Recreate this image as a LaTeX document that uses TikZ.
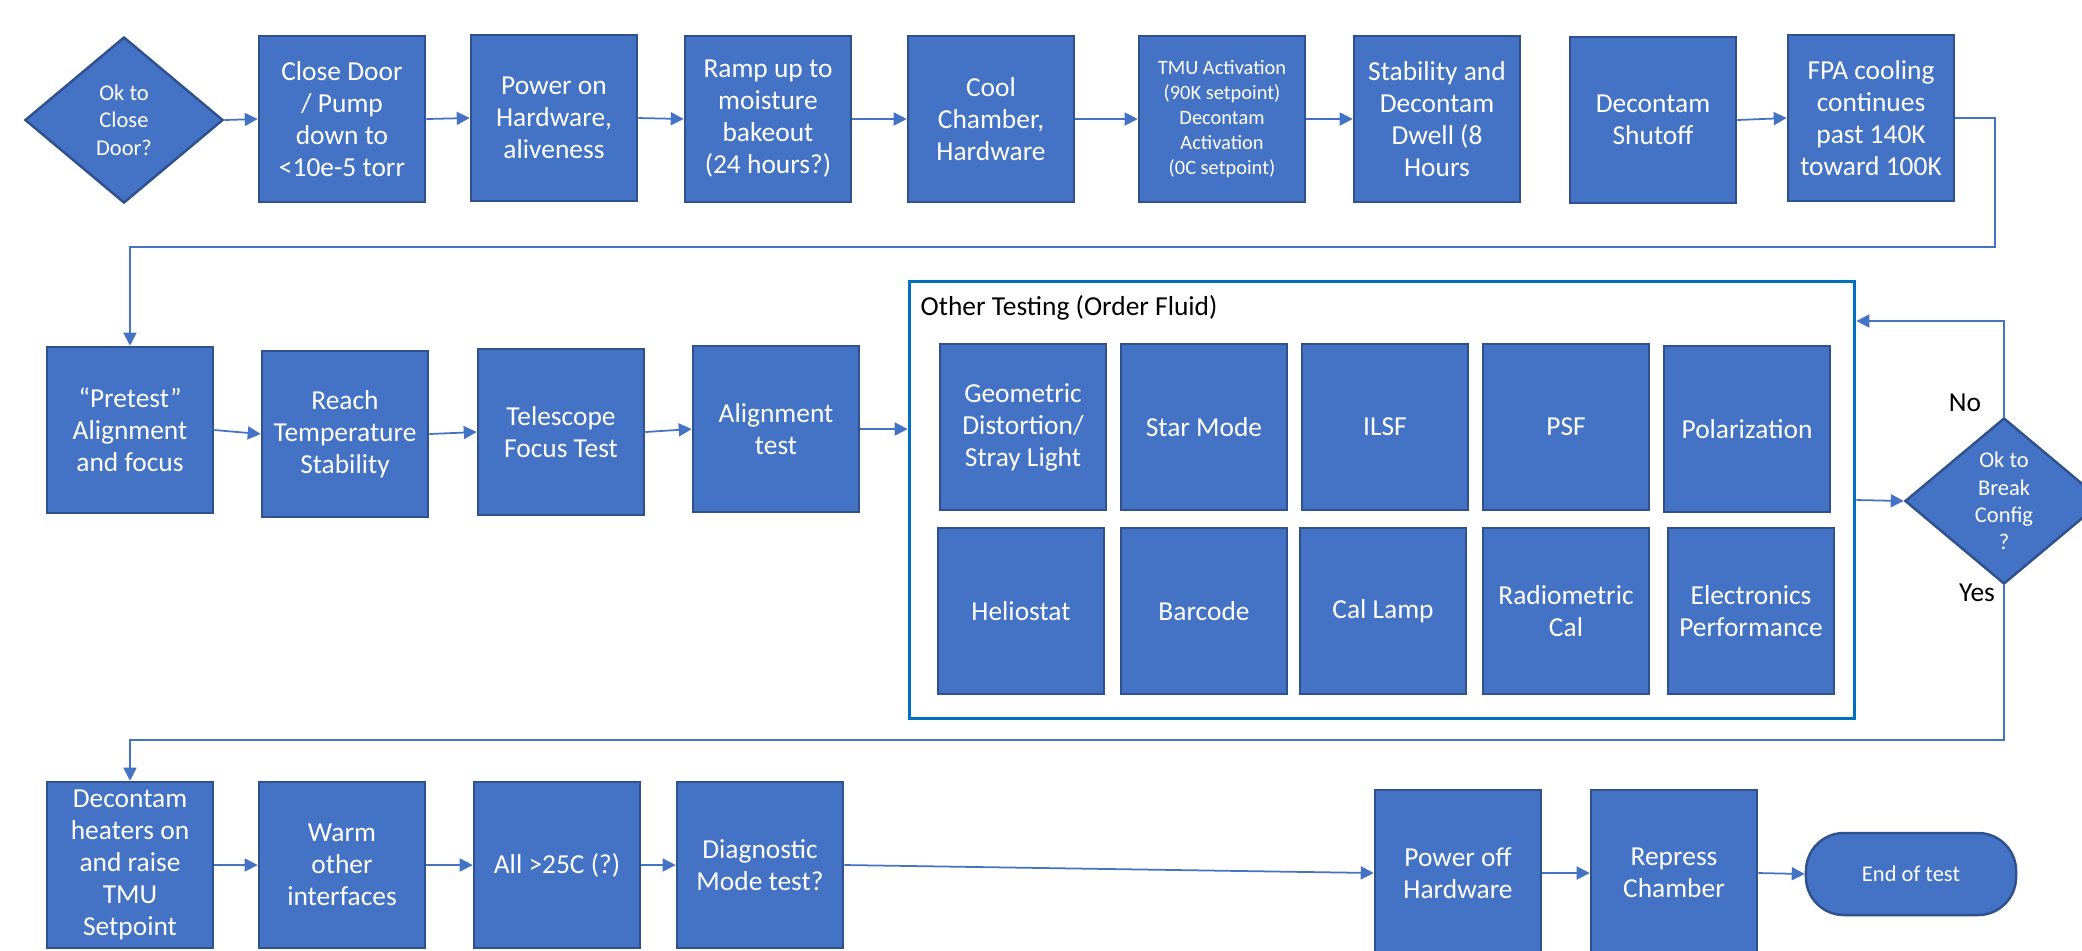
\documentclass[tikz,border=0pt]{standalone}
\usepackage{fontspec}
\setmainfont{Carlito}
\usetikzlibrary{shapes.geometric,arrows.meta}
\definecolor{boxblue}{RGB}{68,114,196}
\definecolor{boxedge}{RGB}{47,82,143}
\definecolor{frameblue}{RGB}{0,112,192}
\begin{document}
\begin{tikzpicture}[x=0.01cm,y=-0.01cm,>={Triangle[length=1.3mm,width=1.3mm]},
stepbox/.style={draw=boxedge,line width=0.7pt,fill=boxblue,text=white,minimum width=1.66cm,minimum height=1.66cm,inner sep=0pt,align=center,font=\fontsize{7.8}{9.1}\selectfont},
decision/.style={diamond,draw=boxedge,line width=0.7pt,fill=boxblue,text=white,minimum width=1.98cm,minimum height=1.66cm,inner sep=0pt,align=center,font=\fontsize{6.4}{7.8}\selectfont},
note/.style={text=black,font=\fontsize{7.8}{9.1}\selectfont},
flow/.style={->,draw=boxblue,line width=0.5pt}]
\clip (0,0) rectangle (2082,950);
\node[decision] (d1) at (124,120) {Ok to\\Close\\Door?};
\node[stepbox] (b1) at (342,119) {Close Door\\/ Pump\\down to\\<10e-5 torr};
\node[stepbox] (b2) at (554,118) {Power on\\Hardware,\\aliveness};
\node[stepbox] (b3) at (768,119) {Ramp up to\\moisture\\bakeout\\(24 hours?)};
\node[stepbox] (b4) at (991,119) {Cool\\Chamber,\\Hardware};
\node[stepbox,font=\fontsize{5.8}{7.1}\selectfont] (b5) at (1222,119) {TMU Activation\\(90K setpoint)\\Decontam\\Activation\\(0C setpoint)};
\node[stepbox] (b6) at (1437,119) {Stability and\\Decontam\\Dwell (8\\Hours};
\node[stepbox] (b7) at (1653,120) {Decontam\\Shutoff};
\node[stepbox] (b8) at (1871,118) {FPA cooling\\continues\\past 140K\\toward 100K};
\draw[flow] (d1.east) -- (b1.west);
\draw[flow] (b1.east) -- (b2.west);
\draw[flow] (b2.east) -- (b3.west);
\draw[flow] (b3.east) -- (b4.west);
\draw[flow] (b4.east) -- (b5.west);
\draw[flow] (b5.east) -- (b6.west);
\draw[flow] (b7.east) -- (b8.west);
\node[stepbox] (p1) at (130,430) {“Pretest”\\Alignment\\and focus};
\node[stepbox] (p2) at (345,434) {Reach\\Temperature\\Stability};
\node[stepbox] (p3) at (561,432) {Telescope\\Focus Test};
\node[stepbox] (p4) at (776,429) {Alignment\\test};
\coordinate (fpaturn) at (1995,247);
\draw[flow] (b8.east) -| (fpaturn) -| (p1.north);
\draw[flow] (p1.east) -- (p2.west);
\draw[flow] (p2.east) -- (p3.west);
\draw[flow] (p3.east) -- (p4.west);
\node[draw=frameblue,line width=0.9pt,minimum width=9.45cm,minimum height=4.37cm] (frame) at (1382,500) {};
\node[note,anchor=base west,inner sep=0pt] (title) at (920,315) {Other Testing (Order Fluid)};
\node[stepbox] (geo) at (1023,427) {Geometric\\Distortion/\\Stray Light};
\node[stepbox] (star) at (1204,427) {Star Mode};
\node[stepbox] (ilsf) at (1385,427) {ILSF};
\node[stepbox] (psf) at (1566,427) {PSF};
\node[stepbox] (pol) at (1747,429) {Polarization};
\node[stepbox] (helio) at (1021,611) {Heliostat};
\node[stepbox] (bar) at (1204,611) {Barcode};
\node[stepbox] (lamp) at (1383,611) {Cal Lamp};
\node[stepbox] (radio) at (1566,611) {Radiometric\\Cal};
\node[stepbox] (elec) at (1751,611) {Electronics\\Performance};
\draw[flow] (p4.east) -- (p4.east -| frame.west);
\node[decision] (d2) at (2004,501) {Ok to\\Break\\Config\\?};
\draw[flow] (frame.east) -- (d2.west);
\coordinate (noturn) at (2004,321);
\draw[flow] (d2.north) -- (noturn) -- (noturn -| frame.east);
\node[note] (nolab) at (1965,403) {No};
\node[note] (yeslab) at (1977,593) {Yes};
\node[stepbox] (q1) at (130,865) {Decontam\\heaters on\\and raise\\TMU\\Setpoint};
\node[stepbox] (q2) at (342,865) {Warm\\other\\interfaces};
\node[stepbox] (q3) at (557,865) {All >25C (?)};
\node[stepbox] (q4) at (760,865) {Diagnostic\\Mode test?};
\node[stepbox] (q5) at (1458,873) {Power off\\Hardware};
\node[stepbox] (q6) at (1674,873) {Repress\\Chamber};
\node[stepbox,rounded corners=0.38cm,minimum width=2.1cm,minimum height=0.82cm,font=\fontsize{6.4}{7.8}\selectfont] (q7) at (1911,874) {End of test};
\coordinate (yesturn) at (2004,740);
\draw[flow] (d2.south) -- (yesturn) -| (q1.north);
\draw[flow] (q1.east) -- (q2.west);
\draw[flow] (q2.east) -- (q3.west);
\draw[flow] (q3.east) -- (q4.west);
\draw[flow] (q4.east) -- (q5.west);
\draw[flow] (q5.east) -- (q6.west);
\draw[flow] (q6.east) -- (q7.west);
\end{tikzpicture}
\end{document}
